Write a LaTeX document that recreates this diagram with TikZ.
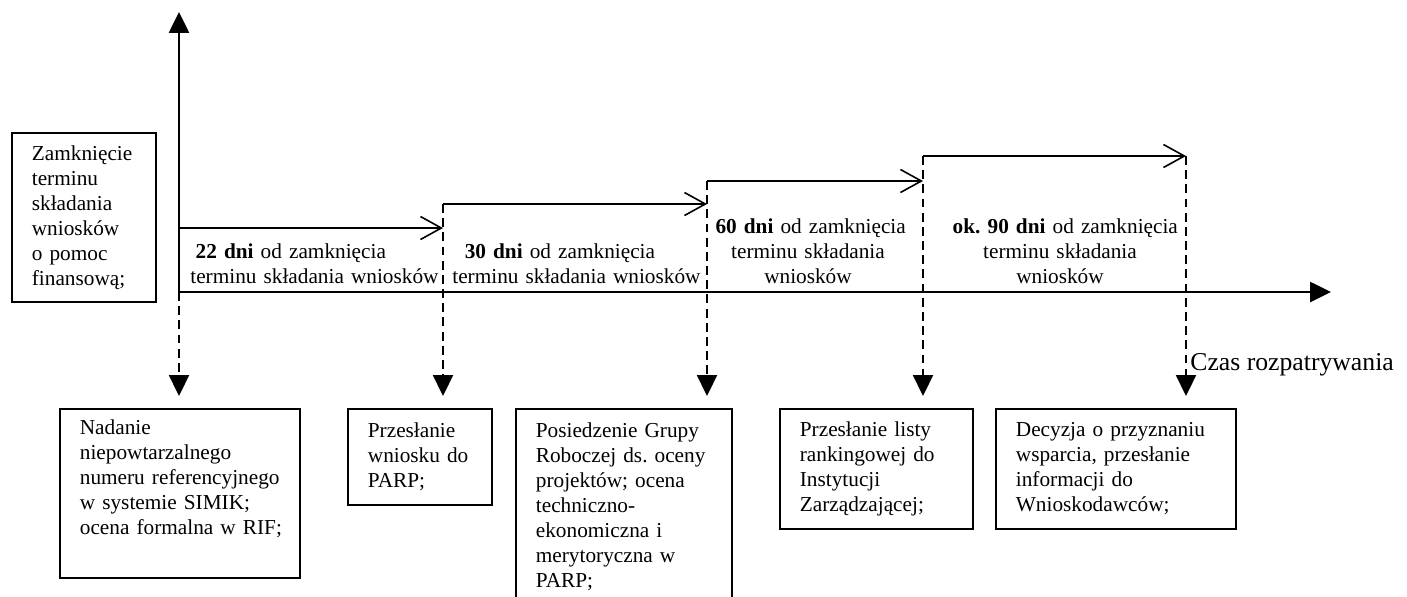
\documentclass[tikz,border=0pt]{standalone}
\usepackage{fontspec}
\setmainfont{Liberation Serif}
\usetikzlibrary{arrows.meta,positioning}

\newcommand{\pxu}{0.564pt}

\begin{document}
\begin{tikzpicture}[x=0.564pt,y=-0.564pt,
    every node/.style={font=\fontsize{12}{14.1}\selectfont\frenchspacing},
    box/.style={draw,line width=1pt,anchor=north west,align=left,inner xsep=20*\pxu,inner ysep=0pt},
    steplabel/.style={inner sep=0pt,text width=#1*\pxu},
    axis/.style={line width=1.3pt,-{Triangle[length=11.8pt,width=11.3pt]}},
    steparrow/.style={line width=0.9pt,-{Straight Barb[length=11.8pt,width=13pt]}},
    dasharrow/.style={line width=1pt,dash pattern=on 5pt off 3pt,-{Triangle[length=11.8pt,width=11.3pt]},shorten >=12*\pxu}]

\useasboundingbox (0,0) rectangle (1407,596);
\clip (0,0) rectangle (1407,596);

% axes
\coordinate (O) at (179,292);
\coordinate (top) at (179,12);
\coordinate (end) at (1331,292);
\draw[axis] (O) -- (top);
\draw[axis] (O) -- (end);

% steps
\coordinate (s1) at (179,228); \coordinate (e1) at (443,228);
\coordinate (s2) at (443,204); \coordinate (e2) at (707,204);
\coordinate (s3) at (707,181); \coordinate (e3) at (923,181);
\coordinate (s4) at (923,156); \coordinate (e4) at (1186,156);
\foreach \i in {1,...,4}
  \draw[steparrow] (s\i) -- (e\i);

\node[box,text width=104*\pxu,minimum height=169*\pxu] (start) at (11,132)
  {Zamknięcie\\terminu\\składania\\wniosków\\o pomoc\\finansową;};

\node[box,text width=200*\pxu,minimum height=169*\pxu] (b1) at (59,408)
  {Nadanie\\niepowtarzalnego\\\mbox{numeru referencyjnego}\\\mbox{w systemie SIMIK;}\\\mbox{ocena formalna w RIF;}\\\strut};
\node[box,text width=104*\pxu,minimum height=96*\pxu] (b2) at (347,408)
  {Przesłanie\\\mbox{wniosku do}\\PARP;};
\node[box,text width=176*\pxu,minimum height=196*\pxu] (b3) at (515,408)
  {\mbox{Posiedzenie Grupy}\\\mbox{Roboczej ds. oceny}\\\mbox{projektów; ocena}\\techniczno-\\\mbox{ekonomiczna i}\\\mbox{merytoryczna w}\\PARP;};
\node[box,text width=153*\pxu,minimum height=120*\pxu] (b4) at (779,408)
  {\mbox{Przesłanie listy}\\\mbox{rankingowej do}\\Instytucji\\Zarządzającej;};
\node[box,text width=200*\pxu,minimum height=120*\pxu] (b5) at (995,408)
  {\mbox{Decyzja o przyznaniu}\\\mbox{wsparcia, przesłanie}\\\mbox{informacji do}\\Wnioskodawców;};

\foreach \a/\b in {O/b1,s2/b2,s3/b3,s4/b4,e4/b5}
  \draw[dasharrow] (\a) -- (\b.north -| \a);

\node[steplabel=260,align=left,anchor=base west] (l22) at (190,258)
  {\hspace*{3pt}\textbf{22 dni} od zamknięcia\\terminu składania wniosków};
\node[steplabel=260,align=left,anchor=base west] (l30) at (452,258)
  {\hspace*{7pt}\textbf{30 dni} od zamknięcia\\terminu składania wniosków};
\node[steplabel=200,align=center,anchor=base] (l60) at (808,233)
  {\hspace*{3pt}\textbf{60 dni} od zamknięcia\\terminu składania\\wniosków};
\node[steplabel=240,align=center,anchor=base] (l90) at (1060,233)
  {\hspace*{6pt}\textbf{ok. 90 dni} od zamknięcia\\terminu składania\\wniosków};

\node[font=\fontsize{14.5}{17}\selectfont,anchor=base west,inner sep=0pt] (czas) at (1190,370)
  {Czas rozpatrywania};

\end{tikzpicture}
\end{document}
